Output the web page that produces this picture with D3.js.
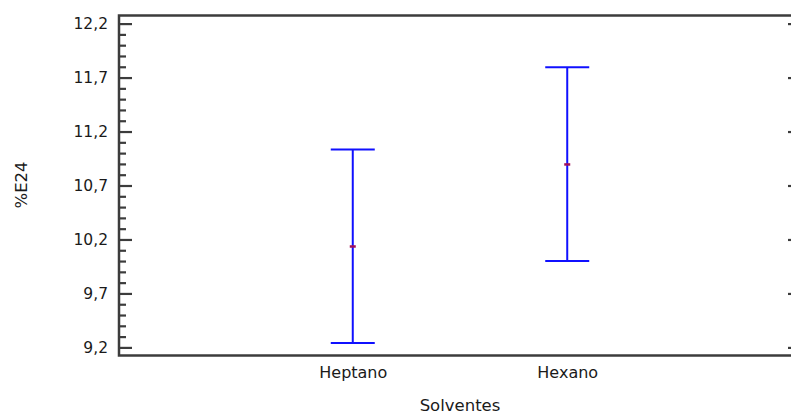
<!DOCTYPE html>
<html>
<head>
<meta charset="utf-8">
<script src="https://cdn.jsdelivr.net/npm/d3@7"></script>
<style>
  html, body { margin: 0; padding: 0; background: #fff; }
  svg { display: block; }
  text { font-family: "DejaVu Sans", sans-serif; fill: #1a1a1a; }
</style>
</head>
<body>
<svg id="chart" width="791" height="415"></svg>
<script>
// Means and interval limits of %E24 for each solvent
const categories = ["Heptano", "Hexano"];
const means = [10.135, 10.895];
const lowerLimits = [9.24, 10.0];
const upperLimits = [11.033, 11.795];

// Axis ticks
const majorTicks = [9.2, 9.7, 10.2, 10.7, 11.2, 11.7, 12.2];
const minorTicks = [9.3, 9.4, 9.5, 9.6, 9.8, 9.9, 10.0, 10.1, 10.3, 10.4, 10.5, 10.6,
                    10.8, 10.9, 11.0, 11.1, 11.3, 11.4, 11.5, 11.6, 11.8, 11.9, 12.0, 12.1];
const yDomain = [9.125, 12.275];

const xLabel = "Solventes";
const yLabel = "%E24";

const svg = d3.select("#chart");
const plotLeft = 119, plotRight = 801, plotTop = 15.5, plotBottom = 355.5;

const x = d3.scalePoint().domain(categories).range([plotLeft, plotRight]).padding(1.09);
const y = d3.scaleLinear().domain(yDomain).range([plotBottom, plotTop]);

const commaFmt = d3.formatLocale({ decimal: ",", thousands: ".", grouping: [3], currency: ["", ""] }).format(".1f");

const frameColor = "#3c3c3c";

// Left axis: major ticks with labels, minor ticks
const yAxis = d3.axisRight(y).tickValues(majorTicks).tickSize(13).tickFormat(commaFmt);
const gy = svg.append("g").attr("transform", `translate(${plotLeft},0)`).call(yAxis);
gy.select(".domain").remove();
gy.selectAll(".tick line").attr("stroke", frameColor).attr("stroke-width", 2.2);
gy.selectAll(".tick text")
  .attr("x", -11).attr("dy", "0.34em")
  .attr("text-anchor", "end")
  .style("font-size", "15.5px").style("fill", "#1a1a1a");

const yMinor = d3.axisRight(y).tickValues(minorTicks).tickSize(7).tickFormat("");
const gym = svg.append("g").attr("transform", `translate(${plotLeft},0)`).call(yMinor);
gym.select(".domain").remove();
gym.selectAll(".tick line").attr("stroke", frameColor).attr("stroke-width", 2.2);

// Right axis: inward major ticks only
const yRight = d3.axisLeft(y).tickValues(majorTicks).tickSize(13).tickFormat("");
const gyr = svg.append("g").attr("transform", `translate(${plotRight},0)`).call(yRight);
gyr.select(".domain").remove();
gyr.selectAll(".tick line").attr("stroke", frameColor).attr("stroke-width", 2.2);

// Bottom axis: category labels, no tick marks
const xAxis = d3.axisBottom(x).tickSize(0).tickPadding(11);
const gx = svg.append("g").attr("transform", `translate(0,${plotBottom})`).call(xAxis);
gx.select(".domain").remove();
gx.selectAll(".tick text").style("font-size", "16px").style("fill", "#1a1a1a").attr("dy", "0.71em");

// Plot frame
svg.append("rect")
  .attr("x", plotLeft).attr("y", plotTop)
  .attr("width", plotRight - plotLeft).attr("height", plotBottom - plotTop)
  .attr("fill", "none").attr("stroke", frameColor).attr("stroke-width", 2.5);

// Interval bars
const capHalf = 22;
const bars = svg.append("g").selectAll("g").data(categories).join("g");
bars.append("line")
  .attr("x1", d => x(d)).attr("x2", d => x(d))
  .attr("y1", (d, i) => y(upperLimits[i])).attr("y2", (d, i) => y(lowerLimits[i]))
  .attr("stroke", "#1010ff").attr("stroke-width", 2);
bars.append("line")
  .attr("x1", d => x(d) - capHalf).attr("x2", d => x(d) + capHalf)
  .attr("y1", (d, i) => y(upperLimits[i])).attr("y2", (d, i) => y(upperLimits[i]))
  .attr("stroke", "#1010ff").attr("stroke-width", 2);
bars.append("line")
  .attr("x1", d => x(d) - capHalf).attr("x2", d => x(d) + capHalf)
  .attr("y1", (d, i) => y(lowerLimits[i])).attr("y2", (d, i) => y(lowerLimits[i]))
  .attr("stroke", "#1010ff").attr("stroke-width", 2);
// Mean markers
bars.append("rect")
  .attr("x", d => x(d) - 3).attr("y", (d, i) => y(means[i]) - 1.25)
  .attr("width", 6).attr("height", 2.5)
  .attr("fill", "#a0105a");

// Axis titles
svg.append("text")
  .attr("x", (plotLeft + plotRight) / 2).attr("y", 411)
  .attr("text-anchor", "middle")
  .style("font-size", "16.5px")
  .text(xLabel);

svg.append("text")
  .attr("transform", `translate(27,185) rotate(-90)`)
  .attr("text-anchor", "middle")
  .style("font-size", "16.5px")
  .text(yLabel);
</script>
</body>
</html>
